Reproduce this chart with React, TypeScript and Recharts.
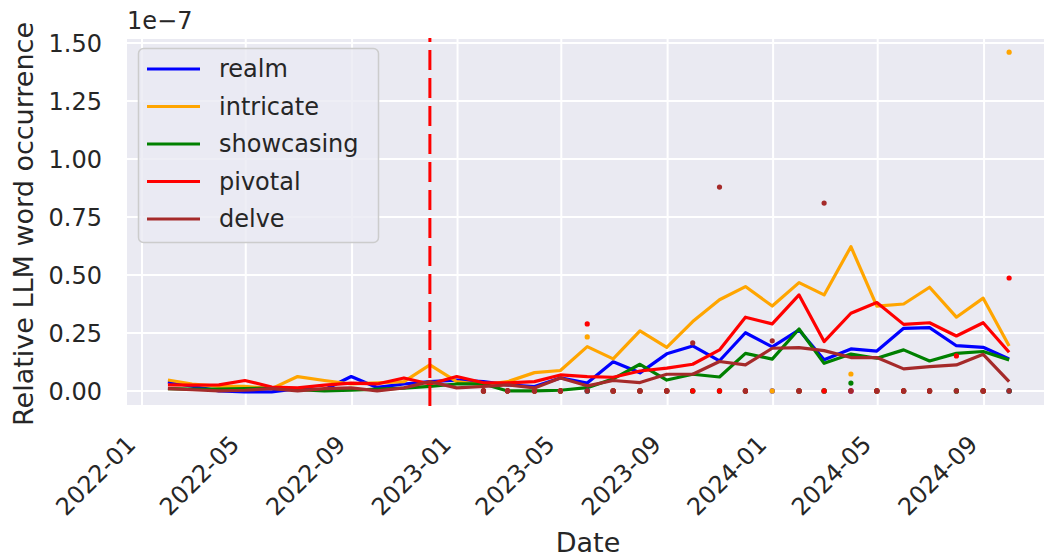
import React from 'react';
import { ComposedChart, Line, Scatter, XAxis, YAxis, CartesianGrid, ReferenceLine } from 'recharts';

const months = [
  '2022-01', '2022-02', '2022-03', '2022-04', '2022-05', '2022-06', '2022-07', '2022-08', '2022-09', '2022-10', '2022-11', '2022-12',
  '2023-01', '2023-02', '2023-03', '2023-04', '2023-05', '2023-06', '2023-07', '2023-08', '2023-09', '2023-10', '2023-11', '2023-12',
  '2024-01', '2024-02', '2024-03', '2024-04', '2024-05', '2024-06', '2024-07', '2024-08', '2024-09',
];

const realm = [0.039, 0.02, 0.0, -0.004, -0.004, 0.01, 0.005, 0.062, 0.015, 0.03, 0.04, 0.047, 0.04, 0.026, 0.019, 0.056, 0.034, 0.126, 0.078, 0.16, 0.194, 0.13, 0.251, 0.19, 0.263, 0.134, 0.181, 0.172, 0.27, 0.273, 0.195, 0.188, 0.138];
const intricate = [0.047, 0.03, 0.02, 0.02, 0.01, 0.062, 0.045, 0.03, 0.035, 0.04, 0.112, 0.04, 0.026, 0.04, 0.079, 0.088, 0.191, 0.138, 0.259, 0.188, 0.299, 0.393, 0.45, 0.366, 0.467, 0.414, 0.622, 0.366, 0.375, 0.447, 0.318, 0.4, 0.194];
const showcasing = [0.01, 0.008, 0.008, 0.01, 0.012, 0.005, 0.0, 0.003, 0.008, 0.012, 0.02, 0.03, 0.03, 0.0, 0.0, 0.003, 0.014, 0.052, 0.115, 0.047, 0.072, 0.06, 0.162, 0.137, 0.267, 0.119, 0.159, 0.141, 0.177, 0.129, 0.162, 0.17, 0.134];
const pivotal = [0.026, 0.025, 0.026, 0.045, 0.017, 0.013, 0.025, 0.034, 0.03, 0.056, 0.03, 0.062, 0.035, 0.035, 0.04, 0.069, 0.062, 0.059, 0.086, 0.098, 0.115, 0.177, 0.318, 0.289, 0.414, 0.213, 0.335, 0.381, 0.287, 0.294, 0.237, 0.294, 0.167];
const delve = [0.01, 0.005, 0.0, 0.003, 0.01, 0.0, 0.01, 0.013, 0.0, 0.013, 0.04, 0.013, 0.019, 0.026, 0.013, 0.056, 0.022, 0.045, 0.036, 0.072, 0.072, 0.127, 0.112, 0.184, 0.187, 0.174, 0.144, 0.144, 0.095, 0.105, 0.112, 0.158, 0.04];

// scatter points, 2023-01 .. 2024-09
const dotMonths = months.slice(12);
const realmDots = [0, 0, 0, 0, 0, 0, 0, 0, 0, 0, 0, 0, 0, 0, 0, 0, 0, 0, 0, 0, 0];
const intricateDots = [0, 0, 0, 0, 0.233, 0, 0, 0, 0, 0, 0, 0, 0, 0, 0.073, 0, 0, 0, 0, 0, 1.461];
const showcasingDots = [0, 0, 0, 0, 0, 0, 0, 0, 0, 0, 0, null, 0, 0, 0.034, 0, 0, 0, 0, 0, 0];
const pivotalDots = [0, 0, 0, 0, 0.289, 0, 0, 0, 0, 0, 0, null, 0, 0, 0, 0, 0, 0, 0.151, 0, 0.487];
const delveDots = [0, 0, 0, 0, 0, 0, 0, 0, 0.207, 0.879, 0, 0.216, 0, 0.81, 0, 0, 0, 0, 0, 0, 0];

const xTickLabels = ['2022-01', '2022-05', '2022-09', '2023-01', '2023-05', '2023-09', '2024-01', '2024-05', '2024-09'];
const yTicks = [0, 0.25, 0.5, 0.75, 1.0, 1.25, 1.5];
const releaseDate = '2022-11-30';

const words = ['realm', 'intricate', 'showcasing', 'pivotal', 'delve'];
const colors = ['#0000FF', '#FFA500', '#008000', '#FF0000', '#A52A2A'];
const seriesValues = [realm, intricate, showcasing, pivotal, delve];
const dotValues = [realmDots, intricateDots, showcasingDots, pivotalDots, delveDots];

const monthEnd = (m: string) => {
  const [y, mo] = m.split('-').map(Number);
  return Date.UTC(y, mo, 0);
};
const monthStart = (m: string) => {
  const [y, mo] = m.split('-').map(Number);
  return Date.UTC(y, mo - 1, 1);
};

const data = months.map((m, i) => {
  const row: any = { t: monthEnd(m) };
  words.forEach((w, k) => { row[w] = seriesValues[k][i]; });
  return row;
});

const dotData = dotValues.map((vals) =>
  dotMonths
    .map((m, i) => ({ t: monthEnd(m), v: vals[i] }))
    .filter((p) => p.v !== null)
);

const xTicks = xTickLabels.map(monthStart);
const [ry, rm, rd] = releaseDate.split('-').map(Number);
const releaseT = Date.UTC(ry, rm - 1, rd);

const FONT = 'DejaVu Sans';
const TEXT = '#262626';

const XTick = (props: any) => {
  const { x, payload } = props;
  const label = new Date(payload.value).toISOString().slice(0, 7);
  const ax = x - 5;
  const ay = 446;
  return (
    <text x={ax} y={ay} transform={`rotate(-45, ${ax}, ${ay})`} textAnchor="end" fontSize={24} fill={TEXT} fontFamily={FONT}>
      {label}
    </text>
  );
};

const YTick = (props: any) => {
  const { y, payload } = props;
  return (
    <text x={102} y={y} dy="0.36em" textAnchor="end" fontSize={24} fill={TEXT} fontFamily={FONT}>
      {payload.value.toFixed(2)}
    </text>
  );
};

const makeDot = (color: string) => (props: any) => (
  <circle cx={props.cx} cy={props.cy} r={2.6} fill={color} />
);

export default function App() {
  return (
    <div style={{ position: 'absolute', left: 0, top: 0, width: 1045, height: 558, background: '#ffffff', overflow: 'hidden' }}>
      <ComposedChart width={1045} height={558} data={data} margin={{ top: 38, right: 0, bottom: 0, left: 0 }}>
        <CartesianGrid fill="#EAEAF2" stroke="#ffffff" strokeWidth={2} verticalPoints={undefined} />
        <XAxis
          dataKey="t"
          type="number"
          domain={[Date.UTC(2021, 11, 13, 12), Date.UTC(2024, 10, 10, 12)]}
          allowDataOverflow
          ticks={xTicks}
          tick={<XTick />}
          axisLine={false}
          tickLine={false}
          height={152}
          interval={0}
        />
        <YAxis
          type="number"
          domain={[-0.065, 1.522]}
          allowDataOverflow
          ticks={yTicks}
          tick={<YTick />}
          axisLine={false}
          tickLine={false}
          width={126}
          interval={0}
        />
        {words.map((w, k) => (
          <Line
            key={w}
            type="linear"
            dataKey={w}
            stroke={colors[k]}
            strokeWidth={3.2}
            dot={false}
            activeDot={false}
            isAnimationActive={false}
            strokeLinejoin="round"
          />
        ))}
        {words.map((w, k) => (
          <Scatter
            key={w + '-dots'}
            data={dotData[k]}
            dataKey="v"
            fill={colors[k]}
            shape={makeDot(colors[k])}
            isAnimationActive={false}
          />
        ))}
        <ReferenceLine x={releaseT} stroke="#FF0000" strokeWidth={3} strokeDasharray="20 8" />
      </ComposedChart>
      <svg width={1045} height={558} style={{ position: 'absolute', left: 0, top: 0, pointerEvents: 'none' }}>
        <text x={127} y={29} fontSize={24} fill={TEXT} fontFamily={FONT}>1e−7</text>
        <text
          x={33}
          y={224}
          transform="rotate(-90, 33, 224)"
          textAnchor="middle"
          fontSize={27}
          fill={TEXT}
          fontFamily={FONT}
        >
          Relative LLM word occurrence
        </text>
        <text x={588} y={552} textAnchor="middle" fontSize={27} fill={TEXT} fontFamily={FONT}>Date</text>
        <rect x={138.5} y={48.5} width={240} height={194} rx={5} ry={5} fill="#EAEAF2" fillOpacity={0.8} stroke="#CCCCCC" strokeWidth={1.5} />
        {words.map((w, k) => {
          const y = 69 + k * 37.5;
          return (
            <g key={w}>
              <line x1={147} x2={200} y1={y} y2={y} stroke={colors[k]} strokeWidth={3.2} />
              <text x={219} y={y} dy="0.35em" fontSize={24} fill={TEXT} fontFamily={FONT}>{w}</text>
            </g>
          );
        })}
      </svg>
    </div>
  );
}
